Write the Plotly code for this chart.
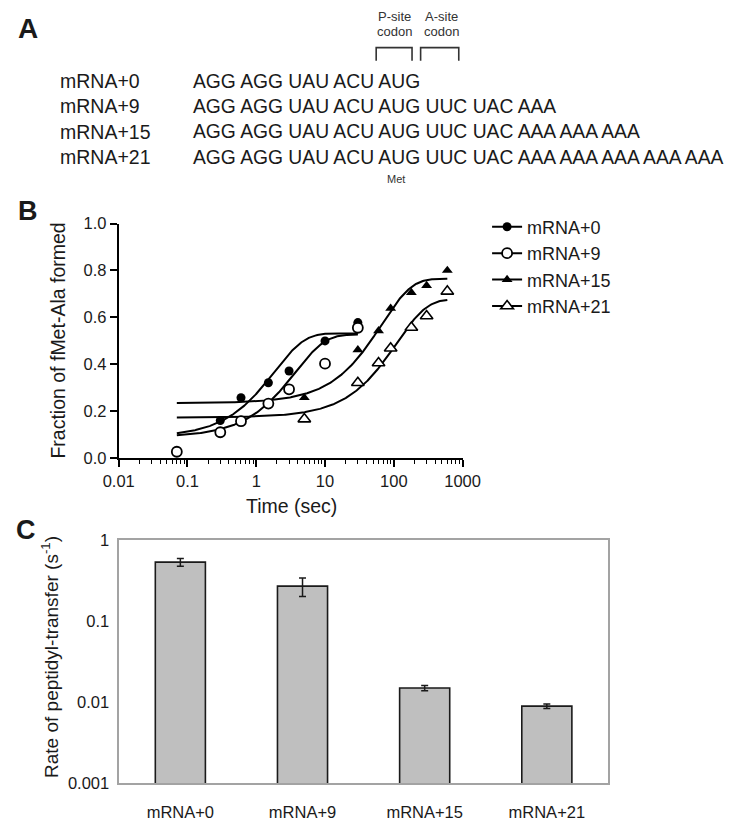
import numpy as np
import plotly.graph_objects as go

W, H = 733, 827
FONT = "Liberation Sans, Arial, sans-serif"
TXT = "#1a1a1a"

def X(px):
    return px / W

def Y(py):
    return 1 - py / H

# ---------------- Panel A data ----------------
construct_names = ["mRNA+0", "mRNA+9", "mRNA+15", "mRNA+21"]
sequences = [
    "AGG AGG UAU ACU AUG",
    "AGG AGG UAU ACU AUG UUC UAC AAA",
    "AGG AGG UAU ACU AUG UUC UAC AAA AAA AAA",
    "AGG AGG UAU ACU AUG UUC UAC AAA AAA AAA AAA AAA",
]

# ---------------- Panel B data ----------------
series_names = ["mRNA+0", "mRNA+9", "mRNA+15", "mRNA+21"]
t_mrna0 = [0.3, 0.6, 1.5, 3, 10, 30]
f_mrna0 = [0.161, 0.258, 0.322, 0.372, 0.500, 0.578]
t_mrna9 = [0.07, 0.3, 0.6, 1.5, 3, 10, 30]
f_mrna9 = [0.028, 0.111, 0.158, 0.233, 0.294, 0.403, 0.556]
t_mrna15 = [5, 30, 60, 90, 180, 300, 600]
f_mrna15 = [0.258, 0.462, 0.543, 0.639, 0.706, 0.736, 0.800]
t_mrna21 = [5, 30, 60, 90, 180, 300, 600]
f_mrna21 = [0.167, 0.322, 0.406, 0.469, 0.557, 0.606, 0.711]

# single-exponential fit parameters
fit_start = [0.09, 0.09, 0.235, 0.174]
fit_amplitude = [0.442, 0.437, 0.530, 0.503]
fit_rate = [0.54, 0.27, 0.015, 0.009]
fit_tmin = [0.07, 0.07, 0.07, 0.07]
fit_tmax = [30, 30, 600, 600]

# ---------------- Panel C data ----------------
bar_labels = ["mRNA+0", "mRNA+9", "mRNA+15", "mRNA+21"]
bar_rates = [0.54, 0.273, 0.0151, 0.0090]
bar_errors = [0.06, 0.07, 0.0011, 0.0006]

fig = go.Figure()

# ----- Panel B traces -----
marker_styles = [
    dict(symbol="circle", size=9, color="black", line=dict(color="black", width=0)),
    dict(symbol="circle", size=10, color="white", line=dict(color="black", width=1.8)),
    dict(symbol="triangle-up", size=9.5, color="black", line=dict(color="black", width=0)),
    dict(symbol="triangle-up", size=11, color="white", line=dict(color="black", width=1.6)),
]
t_data = [t_mrna0, t_mrna9, t_mrna15, t_mrna21]
f_data = [f_mrna0, f_mrna9, f_mrna15, f_mrna21]

for i in range(4):
    tt = np.geomspace(fit_tmin[i], fit_tmax[i], 300)
    ff = fit_start[i] + fit_amplitude[i] * (1 - np.exp(-fit_rate[i] * tt))
    fig.add_trace(go.Scatter(x=tt, y=ff, mode="lines", line=dict(color="black", width=2),
                             showlegend=False, hoverinfo="skip", xaxis="x", yaxis="y"))

for i in range(4):
    fig.add_trace(go.Scatter(x=t_data[i], y=f_data[i], mode="markers", marker=marker_styles[i],
                             showlegend=False, cliponaxis=False, xaxis="x", yaxis="y"))

# legend entries (line + symbol)
for i in range(4):
    fig.add_trace(go.Scatter(x=[None], y=[None], mode="lines+markers", name=series_names[i],
                             marker=marker_styles[i], line=dict(color="black", width=2),
                             xaxis="x", yaxis="y"))

# ----- Panel C -----
fig.add_trace(go.Bar(
    x=bar_labels, y=bar_rates, width=0.41,
    marker=dict(color="#bfbfbf", line=dict(color="#1a1a1a", width=1.6)),
    error_y=dict(type="data", array=bar_errors, visible=True, color="#1a1a1a", thickness=1.5, width=3.5),
    showlegend=False, xaxis="x2", yaxis="y2"))

layout_axis_font = dict(family=FONT, size=16.5, color=TXT)

fig.update_layout(
    width=W, height=H,
    margin=dict(l=0, r=0, t=0, b=0),
    paper_bgcolor="white", plot_bgcolor="rgba(0,0,0,0)",
    font=dict(family=FONT, color=TXT),
    xaxis=dict(
        domain=[X(107.7), X(468.3)], anchor="y", type="log", range=[-2, 3],
        tickmode="array", tickvals=[0.01, 0.1, 1, 10, 100, 1000],
        ticktext=["0.01", "0.1", "1", "10", "100", "1000"],
        showline=True, linecolor="black", linewidth=2, ticks="outside", ticklen=7, tickwidth=1.5,
        tickcolor="black", showgrid=False, zeroline=False, tickfont=layout_axis_font,
        minor=dict(ticks="outside", ticklen=4, tickwidth=1.2, tickcolor="black", dtick="D1", showgrid=False),
    ),
    yaxis=dict(
        domain=[Y(459.3), Y(219.3)], anchor="x", range=[0, 1],
        tickmode="linear", tick0=0, dtick=0.2, tickformat=".1f",
        showline=True, linecolor="black", linewidth=2, ticks="outside", ticklen=7, tickwidth=1.5,
        tickcolor="black", showgrid=False, zeroline=False, tickfont=layout_axis_font,
    ),
    xaxis2=dict(
        domain=[X(108.3), X(620.7)], anchor="y2", type="category", range=[-0.5, 3.5],
        showline=True, mirror=True, linecolor="#a3a3a3", linewidth=1.5, ticks="",
        showgrid=False, zeroline=False, ticklabelstandoff=13,
        tickfont=dict(family=FONT, size=16.5, color=TXT),
    ),
    yaxis2=dict(
        domain=[Y(791.7), Y(543.3)], anchor="x2", type="log", range=[-3, 0],
        tickmode="array", tickvals=[0.001, 0.01, 0.1, 1], ticktext=["0.001", "0.01", "0.1", "1"],
        showline=True, mirror=True, linecolor="#a3a3a3", linewidth=1.5, ticks="",
        showgrid=False, zeroline=False, ticklabelstandoff=5,
        tickfont=dict(family=FONT, size=16.5, color=TXT),
    ),
    legend=dict(x=X(494), y=Y(204), xanchor="left", yanchor="top",
                font=dict(family=FONT, size=18, color=TXT), bgcolor="rgba(0,0,0,0)",
                borderwidth=0, itemwidth=30),
)

ann = []
def add_text(text, px, py, size, xanchor="center", bold=False, angle=0, color=TXT):
    ann.append(dict(text=("<b>%s</b>" % text) if bold else text, x=X(px), y=Y(py),
                    xref="paper", yref="paper", showarrow=False, xanchor=xanchor, yanchor="middle",
                    textangle=angle, font=dict(family=FONT, size=size, color=color)))

# panel letters
add_text("A", 12.5, 20, 28, bold=True)
add_text("B", 13, 207, 27, bold=True)
add_text("C", 11, 533, 27, bold=True)

# panel A rows
row_y = [74, 99.5, 125.3, 151.3]
for name, seq, ry in zip(construct_names, sequences, row_y):
    add_text(name, 44, ry, 19.5, xanchor="left")
    add_text(seq, 183.3, ry, 19.3, xanchor="left")

add_text("P-site", 396.7, 8, 13, color="#333333")
add_text("codon", 396.7, 23.5, 13, color="#333333")
add_text("A-site", 446.3, 8, 13, color="#333333")
add_text("codon", 446.3, 23.5, 13, color="#333333")
add_text("Met", 398, 174, 11, color="#333333")

# axis titles
add_text("Fraction of fMet-Ala formed", 44, 339, 19.5, angle=-90)
add_text("Time (sec)", 289, 508, 19.5)
add_text("Rate of peptidyl-transfer (s<sup>-1</sup>)", 35, 662, 19, angle=-90)

fig.update_layout(annotations=ann)

shapes = []
for x0, x1 in [(377.7, 415.3), (424.3, 464.3)]:
    shapes.append(dict(type="path", xref="paper", yref="paper",
                       path="M %f,%f L %f,%f L %f,%f L %f,%f" % (X(x0), Y(53), X(x0), Y(39.5), X(x1), Y(39.5), X(x1), Y(53)),
                       line=dict(color="#333333", width=1.6)))
fig.update_layout(shapes=shapes)

fig.write_html("out.html", config={"displayModeBar": False},
               post_script="document.body.style.margin='0px';document.body.style.overflow='hidden';")
